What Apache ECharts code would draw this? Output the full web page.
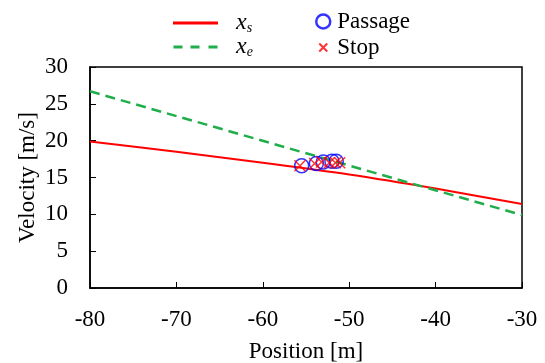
<!DOCTYPE html>
<html>
<head>
<meta charset="utf-8">
<script src="https://cdn.jsdelivr.net/npm/echarts@6/dist/echarts.min.js"></script>
<style>
  html, body { margin: 0; padding: 0; background: #fff; }
  #chart { width: 545px; height: 363px; }
</style>
</head>
<body>
<div id="chart"></div>
<script>
// x_s curve [position, velocity]
const xsLine = [[-80, 19.9], [-70, 18.5], [-60, 17.0], [-50, 15.4], [-40, 13.5], [-30, 11.4]]
// x_e straight line
const xeLine = [[-80, 26.7], [-30, 9.9]]
// observed points
const passage = [[-55.5, 16.6], [-53.8, 16.9], [-53.0, 17.1], [-52.0, 17.2], [-51.5, 17.2]]
const stop = [[-55.7, 16.6], [-54.0, 16.9], [-53.2, 17.1], [-52.3, 17.0], [-51.6, 17.0], [-51.1, 17.0]]
const xTicks = [-80, -70, -60, -50, -40, -30]

const font = 'Liberation Serif'
const fs = 23
const myChart = echarts.init(document.getElementById('chart'))

const subRich = {
  v: { fontFamily: font, fontStyle: 'italic', fontSize: 24, color: '#000' },
  s: { fontFamily: font, fontStyle: 'italic', fontSize: 14, color: '#000', verticalAlign: 'bottom', padding: [10, 0, 0, 0] }
}

const option = {
  animation: false,
  grid: {
    left: 90, right: 23, top: 67, bottom: 75,
    outerBoundsMode: 'none',
    containLabel: false,
    show: true, borderColor: '#000', borderWidth: 1.5
  },
  legend: [
    {
      data: [
        { name: 'xs', icon: 'path://M0,0H45V3H0Z' },
        { name: 'xe', icon: 'path://M0,0H9V3H0ZM17,0H26V3H17ZM35,0H44V3H35Z' }
      ],
      orient: 'vertical',
      left: 168, top: 6,
      itemWidth: 45, itemHeight: 3, itemGap: 0,
      formatter: function (name) {
        return '{v|x}{s|' + name.slice(1) + '}'
      },
      textStyle: { rich: subRich, padding: [0, 0, 0, 13], height: 24, lineHeight: 24 }
    },
    {
      data: [
        { name: 'Passage', itemStyle: { borderWidth: 2.5 } },
        { name: 'Stop', icon: 'path://M0,0L0,0M3,3L11,11M11,3L3,11M14,14L14,14', itemStyle: { borderWidth: 2 } }
      ],
      orient: 'vertical',
      left: 310, top: 5,
      itemWidth: 14, itemHeight: 14, itemGap: 3,
      textStyle: { fontFamily: font, fontSize: fs, color: '#000', padding: [0, 0, 0, 2] }
    }
  ],
  xAxis: {
    type: 'value',
    min: -80, max: -30, interval: 10,
    name: 'Position [m]',
    nameLocation: 'middle',
    nameGap: 52,
    nameMoveOverlap: false,
    nameTextStyle: { fontFamily: font, fontSize: fs, color: '#000' },
    axisLine: { show: true, lineStyle: { color: '#000', width: 1.5 } },
    axisTick: { inside: true, length: 6, lineStyle: { color: '#000' } },
    axisLabel: {
      fontFamily: font, fontSize: fs, color: '#000', margin: 20,
      formatter: function (v) { return xTicks.indexOf(v) >= 0 ? String(v) : '' }
    },
    splitLine: { show: false }
  },
  yAxis: {
    type: 'value',
    min: 0, max: 30, interval: 5,
    name: 'Velocity [m/s]',
    nameLocation: 'middle',
    nameGap: 51,
    nameMoveOverlap: false,
    nameTextStyle: { fontFamily: font, fontSize: fs, color: '#000' },
    axisLine: { show: true, lineStyle: { color: '#000', width: 1.5 } },
    axisTick: { inside: true, length: 6, lineStyle: { color: '#000' } },
    axisLabel: { fontFamily: font, fontSize: fs, color: '#000', margin: 22 },
    splitLine: { show: false }
  },
  series: [
    {
      name: 'xs',
      type: 'line',
      data: xsLine,
      symbol: 'none',
      smooth: 0.3,
      lineStyle: { color: '#ff0000', width: 2 },
      itemStyle: { color: '#ff0000' },
      z: 2
    },
    {
      name: 'xe',
      type: 'line',
      data: xeLine,
      symbol: 'none',
      lineStyle: { color: '#1fae4a', width: 2.5, type: [10, 6] },
      itemStyle: { color: '#1fae4a' },
      z: 2
    },
    {
      name: 'Passage',
      type: 'scatter',
      data: passage,
      symbol: 'circle',
      symbolSize: 14,
      itemStyle: { color: 'rgba(0,0,0,0)', borderColor: '#0000ff', borderWidth: 1.5 },
      z: 3
    },
    {
      name: 'Stop',
      type: 'scatter',
      data: stop,
      symbol: 'path://M0,0L10,10M10,0L0,10',
      symbolSize: 11,
      itemStyle: { color: 'rgba(0,0,0,0)', borderColor: '#ff0000', borderWidth: 1.5 },
      z: 4
    }
  ]
}
myChart.setOption(option)
</script>
</body>
</html>
